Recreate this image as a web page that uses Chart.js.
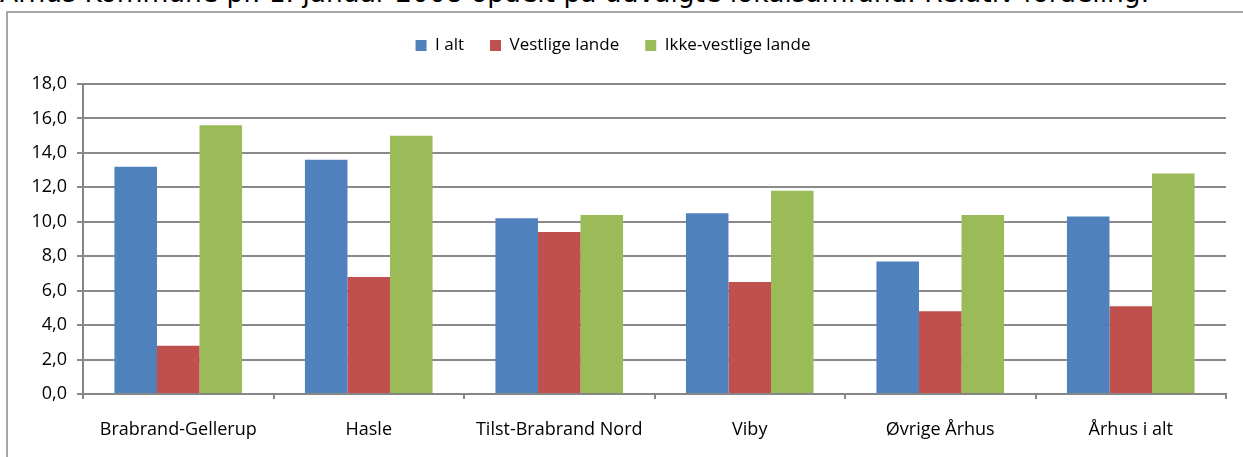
<!DOCTYPE html>
<html>
<head>
<meta charset="utf-8">
<script src="https://cdn.jsdelivr.net/npm/chart.js@4/dist/chart.umd.min.js"></script>
<style>
  html, body { margin: 0; padding: 0; background: #fff; overflow: hidden; }
  #wrap { position: relative; width: 1243px; height: 457px; overflow: hidden; }
  #title { position: absolute; left: 0px; top: -22px; font-family: "DejaVu Sans", sans-serif; font-size: 26.5px; line-height: 30px; color: #000; white-space: nowrap; }
  #frame { position: absolute; left: 6px; top: 11px; width: 1260px; height: 470px; border: 2px solid #a6a6a6; box-sizing: border-box; }
  #c { position: absolute; left: 0; top: 0; }
</style>
</head>
<body>
<div id="wrap">
  <div id="title">Århus Kommune pr. 1. januar 2008 opdelt på udvalgte lokalsamfund. Relativ fordeling.</div>
  <div id="frame"></div>
  <canvas id="c" width="1243" height="457"></canvas>
</div>
<script>
// omraader og andele (procent)
var labels = ['Brabrand-Gellerup', 'Hasle', 'Tilst-Brabrand Nord', 'Viby', 'Øvrige Århus', 'Århus i alt'];
var iAlt = [13.2, 13.6, 10.2, 10.5, 7.7, 10.3];
var vestlige = [2.8, 6.8, 9.4, 6.5, 4.8, 5.1];
var ikkeVestlige = [15.6, 15.0, 10.4, 11.8, 10.4, 12.8];
var yTicks = [0, 2, 4, 6, 8, 10, 12, 14, 16, 18];

var fam = '"Open Sans", "Noto Sans", sans-serif';

// extra luft under legenden
var legendGap = {
  id: 'legendGap',
  beforeInit: function (chart) {
    var fit = chart.legend.fit;
    chart.legend.fit = function () {
      fit.bind(chart.legend)();
      this.height += 20;
    };
  }
};

new Chart(document.getElementById('c'), {
  type: 'bar',
  data: {
    labels: labels,
    datasets: [
      { label: 'I alt', data: iAlt, backgroundColor: '#4f81bd' },
      { label: 'Vestlige lande', data: vestlige, backgroundColor: '#c0504d' },
      { label: 'Ikke-vestlige lande', data: ikkeVestlige, backgroundColor: '#9bbb59' }
    ]
  },
  plugins: [legendGap],
  options: {
    responsive: false,
    animation: false,
    layout: { padding: { top: 11, right: 17, left: 0, bottom: 0 } },
    datasets: { bar: { barPercentage: 1, categoryPercentage: 0.67 } },
    plugins: {
      tooltip: { enabled: false },
      legend: {
        position: 'top',
        labels: { color: '#000', font: { family: fam, size: 17 }, boxWidth: 11, boxHeight: 11, padding: 26 }
      }
    },
    scales: {
      x: {
        grid: { drawOnChartArea: false, color: '#868686', lineWidth: 2, tickLength: 5, offset: true },
        border: { color: '#868686', width: 2 },
        ticks: { color: '#000', font: { family: fam, size: 18 }, padding: 20 },
        afterFit: function (s) { s.height = 63; }
      },
      y: {
        min: 0, max: 18,
        afterBuildTicks: function (s) { s.ticks = yTicks.map(function (v) { return { value: v }; }); },
        grid: { color: '#8a8a8a', lineWidth: 2, tickLength: 6 },
        border: { color: '#868686', width: 2 },
        ticks: {
          color: '#000', font: { family: fam, size: 18 }, padding: 10,
          callback: function (v) { return v.toFixed(1).replace('.', ','); }
        },
        afterFit: function (s) { s.width = 83; }
      }
    }
  }
});
</script>
</body>
</html>
